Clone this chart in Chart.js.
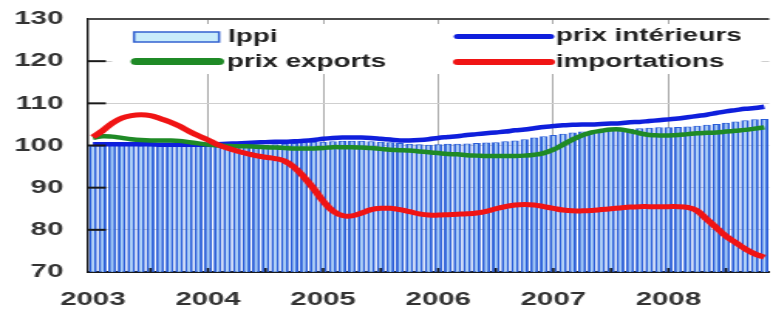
<!DOCTYPE html>
<html><head><meta charset="utf-8">
<script src="https://cdn.jsdelivr.net/npm/chart.js@4/dist/chart.umd.min.js"></script>
<style>
html,body{margin:0;padding:0;background:#fff;overflow:hidden;}
#wrap{position:absolute;left:0;top:0;width:500px;height:315px;transform:scaleX(1.546);transform-origin:0 0;}
</style></head><body>
<div id="wrap"><canvas id="c"></canvas></div>
<script>
// ---- data (monthly, Jan 2003 – Nov 2008) ----
const years = [2003, 2004, 2005, 2006, 2007, 2008];
const monthsInLastYear = 11;
const months = [];
years.forEach((y, yi) => {
  const n = yi === years.length - 1 ? monthsInLastYear : 12;
  for (let m = 1; m <= n; m++) months.push(y + '-' + String(m).padStart(2, '0'));
});

const ippi = [
  100.0, 100.1, 100.2, 100.2, 100.1, 100.0, 100.0, 100.0, 100.0, 100.1, 100.0, 100.0,
  100.0, 99.9, 99.8, 99.9, 100.0, 100.1, 100.2, 100.3, 100.4, 100.6, 100.8, 100.9,
  100.9, 101.0, 101.1, 101.1, 101.1, 101.0, 100.9, 100.8, 100.6, 100.4, 100.3, 100.2,
  100.3, 100.4, 100.4, 100.5, 100.6, 100.7, 100.8, 101.0, 101.2, 101.5, 101.9, 102.2,
  102.5, 102.8, 103.1, 103.3, 103.5, 103.7, 103.8, 103.9, 104.0, 104.1, 104.2, 104.3,
  104.3, 104.4, 104.5, 104.7, 104.9, 105.1, 105.4, 105.7, 106.0, 106.2, 106.3
];
const prixInterieurs = [
  100.3, 100.3, 100.3, 100.3, 100.3, 100.3, 100.3, 100.2, 100.2, 100.2, 100.2, 100.2,
  100.2, 100.3, 100.4, 100.5, 100.6, 100.7, 100.8, 100.9, 100.9, 101.0, 101.1, 101.3,
  101.6, 101.8, 101.9, 101.9, 101.9, 101.8, 101.6, 101.4, 101.2, 101.2, 101.3, 101.5,
  101.8, 102.0, 102.2, 102.5, 102.7, 102.9, 103.1, 103.3, 103.6, 103.8, 104.1, 104.4,
  104.6, 104.8, 104.9, 105.0, 105.0, 105.1, 105.2, 105.3, 105.5, 105.6, 105.8, 106.0,
  106.2, 106.4, 106.7, 107.0, 107.3, 107.7, 108.1, 108.4, 108.7, 108.9, 109.2
];
const prixExports = [
  101.8, 102.2, 102.1, 101.8, 101.5, 101.3, 101.2, 101.2, 101.2, 101.1, 100.8, 100.5,
  100.2, 100.0, 99.9, 99.8, 99.8, 99.7, 99.6, 99.5, 99.4, 99.3, 99.3, 99.3,
  99.4, 99.6, 99.6, 99.6, 99.5, 99.4, 99.2, 99.0, 98.9, 98.8, 98.6, 98.4,
  98.2, 98.0, 97.9, 97.7, 97.6, 97.5, 97.5, 97.5, 97.5, 97.6, 97.8, 98.2,
  99.0, 100.2, 101.4, 102.4, 103.1, 103.5, 103.8, 103.8, 103.4, 102.9, 102.5, 102.4,
  102.4, 102.5, 102.7, 102.9, 103.0, 103.1, 103.3, 103.5, 103.7, 104.0, 104.3
];
const importations = [
  102.0, 103.5, 105.3, 106.5, 107.1, 107.3, 107.1, 106.4, 105.6, 104.6, 103.4, 102.3,
  101.3, 100.2, 99.4, 98.7, 98.1, 97.6, 97.2, 96.9, 96.3, 94.8, 92.5, 89.8,
  86.8, 84.5, 83.4, 83.3, 84.0, 84.8, 85.1, 85.1, 84.8, 84.3, 83.8, 83.5,
  83.5, 83.6, 83.7, 83.8, 84.0, 84.4, 85.0, 85.5, 85.9, 86.0, 85.9, 85.5,
  85.1, 84.7, 84.5, 84.5, 84.6, 84.8, 85.0, 85.2, 85.4, 85.5, 85.5, 85.5,
  85.5, 85.5, 85.3, 84.5, 82.5, 80.5, 78.5, 77.0, 75.5, 74.3, 73.5
];
const yTicks = [70, 80, 90, 100, 110, 120, 130];
const seriesNames = ['Ippi', 'prix intérieurs', 'prix exports', 'importations'];

// ---- styling ----
const FONT = 'Liberation Sans, Arial, sans-serif';
const C_BLUE = '#0f1fdc', C_GREEN = '#1f8a26', C_RED = '#f01414';
const C_BAR_FILL = '#a9d0f8', C_BAR_LINE = '#2a5ed8';
const CLEAR = 'rgba(0,0,0,0)';

const decor = {
  id: 'decor',
  afterDatasetsDraw(chart) {
    const ctx = chart.ctx, a = chart.chartArea, ys = chart.scales.y, xs = chart.scales.x;
    ctx.save();
    ctx.strokeStyle = '#1a1a1a'; ctx.lineWidth = 2;
    yTicks.forEach(v => {
      if (v === 70 || v === 130) return;
      const py = ys.getPixelForValue(v);
      ctx.beginPath(); ctx.moveTo(a.left, py); ctx.lineTo(a.left + 11.5, py); ctx.stroke();
    });
    ctx.fillStyle = '#1a1a1a';
    months.forEach((m, i) => {
      if (i > 0 && i % 6 === 0) {
        const px = xs.getPixelForValue(i);
        ctx.fillRect(px - 0.8, a.bottom - 4, 1.6, 4);
      }
    });
    ctx.strokeStyle = '#4a4a4a'; ctx.lineWidth = 2;
    ctx.beginPath(); ctx.moveTo(a.left, a.top); ctx.lineTo(a.right, a.top); ctx.stroke();
    ctx.restore();
  },
  afterDraw(chart) {
    const ctx = chart.ctx;
    ctx.save();
    ctx.fillStyle = '#ffffff';
    ctx.fillRect(72.5, 24, 420, 50);
    ctx.fillStyle = '#c8ecfb'; ctx.strokeStyle = '#3362d0'; ctx.lineWidth = 1.5;
    ctx.fillRect(86.7, 32, 55, 10); ctx.strokeRect(86.7, 32, 55, 10);
    ctx.lineCap = 'round';
    const ln = (x1, x2, y, col, w) => { ctx.strokeStyle = col; ctx.lineWidth = w; ctx.beginPath(); ctx.moveTo(x1, y); ctx.lineTo(x2, y); ctx.stroke(); };
    ln(88, 141.5, 61.5, C_GREEN, 7);
    ln(296, 356, 36.5, C_BLUE, 5);
    ln(296, 356, 62, C_RED, 6);
    ctx.fillStyle = '#222';
    ctx.font = 'bold 18px ' + FONT;
    ctx.textBaseline = 'middle';
    ctx.fillText(seriesNames[0], 147.5, 37);
    ctx.fillText(seriesNames[2], 146.8, 62);
    ctx.fillText(seriesNames[1], 359.6, 36);
    ctx.fillText(seriesNames[3], 359.6, 62);
    ctx.restore();
  }
};

new Chart(document.getElementById('c'), {
  type: 'bar',
  data: {
    labels: months,
    datasets: [
      { type: 'line', label: seriesNames[3], data: importations, borderColor: C_RED, borderWidth: 5, pointRadius: 0, tension: 0.4, order: 0 },
      { type: 'line', label: seriesNames[2], data: prixExports, borderColor: C_GREEN, borderWidth: 4.5, pointRadius: 0, tension: 0.4, order: 1 },
      { type: 'line', label: seriesNames[1], data: prixInterieurs, borderColor: C_BLUE, borderWidth: 4.5, pointRadius: 0, tension: 0.4, order: 2 },
      { type: 'bar', label: seriesNames[0], data: ippi, backgroundColor: C_BAR_FILL, borderColor: C_BAR_LINE,
        borderWidth: { left: 1.9, right: 1.9, top: 1, bottom: 0 }, borderSkipped: 'bottom',
        categoryPercentage: 0.84, barPercentage: 1, order: 3 }
    ]
  },
  options: {
    responsive: true, maintainAspectRatio: false, animation: false, devicePixelRatio: 1,
    layout: { padding: { top: 19, right: 0, left: 0, bottom: 0 } },
    plugins: { legend: { display: false }, tooltip: { enabled: false } },
    scales: {
      x: {
        offset: true,
        afterFit: s => { s.height = 43; },
        grid: {
          offset: false, drawTicks: true, tickLength: 16, tickColor: CLEAR, lineWidth: 1,
          color: c => (c.index > 0 && c.index % 12 === 0) ? '#a8a8a8' : CLEAR
        },
        border: { display: true, color: '#1a1a1a', width: 2 },
        ticks: {
          autoSkip: false, maxRotation: 0, padding: 0, color: '#333',
          font: { family: FONT, size: 19, weight: 'bold' },
          callback: (v, i) => months[i].endsWith('-01') ? months[i].slice(0, 4) : ''
        }
      },
      y: {
        min: 70, max: 130,
        afterFit: s => { s.width = 57; },
        grid: { color: '#cfcfcf', lineWidth: 1, drawTicks: true, tickLength: 16, tickColor: CLEAR },
        border: { display: true, color: '#1a1a1a', width: 1.4 },
        ticks: { stepSize: 10, padding: 0, color: '#333', font: { family: FONT, size: 19, weight: 'bold' } }
      }
    }
  },
  plugins: [decor]
});
</script>
</body></html>
